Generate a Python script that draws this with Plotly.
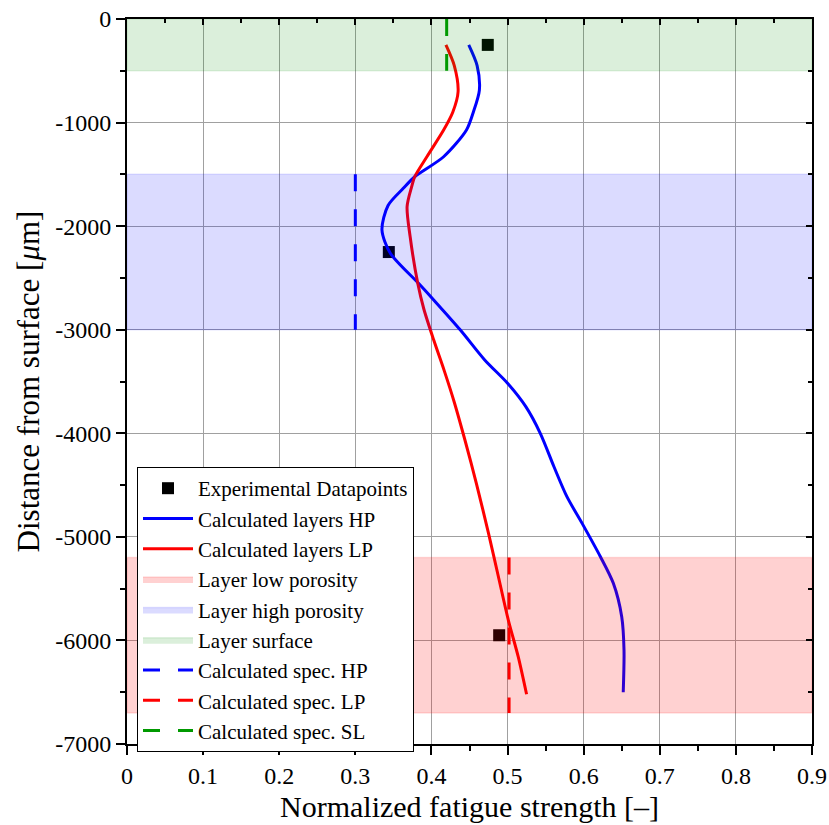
import plotly.graph_objects as go

# ---------------- data ----------------
exp_x = [0.474, 0.344, 0.489]
exp_y = [-250, -2250, -5950]

hp_y = [-250, -450, -686, -900, -1072, -1330, -1523, -1635, -1800, -2037, -2262,
        -2552, -2713, -3003, -3292, -3517, -3743, -4000, -4323, -4612, -4870,
        -5192, -5449, -5771, -6093, -6500]
hp_x = [0.449, 0.460, 0.463, 0.455, 0.446, 0.416, 0.378, 0.363, 0.343, 0.335, 0.346,
        0.383, 0.403, 0.438, 0.470, 0.500, 0.524, 0.543, 0.561, 0.578, 0.598,
        0.622, 0.639, 0.650, 0.653, 0.652]

lp_y = [-250, -450, -702, -900, -1072, -1330, -1523, -1619, -1812, -2100, -2552,
        -2800, -3100, -3400, -3700, -4065, -4483, -4966, -5385, -5803,
        -6157, -6520]
lp_x = [0.419, 0.430, 0.435, 0.428, 0.416, 0.394, 0.378, 0.374, 0.368, 0.372, 0.382,
        0.390, 0.403, 0.417, 0.430, 0.444, 0.459, 0.475, 0.488, 0.501,
        0.514, 0.525]

# layers: (top, bottom)
layer_low = [-5200, -6700]
layer_high = [-1500, -3000]
layer_surface = [0, -500]
x_range = [0, 0.9]
y_range = [-7000, 0]

spec_hp = 0.30
spec_lp = 0.502
spec_sl = 0.42

x_ticks = [0, 0.1, 0.2, 0.3, 0.4, 0.5, 0.6, 0.7, 0.8, 0.9]
x_ticklabels = ["0", "0.1", "0.2", "0.3", "0.4", "0.5", "0.6", "0.7", "0.8", "0.9"]
y_ticks = [0, -1000, -2000, -3000, -4000, -5000, -6000, -7000]
y_ticklabels = ["0", "-1000", "-2000", "-3000", "-4000", "-5000", "-6000", "-7000"]

FONT = "Liberation Serif, Times New Roman, DejaVu Serif, serif"
fig = go.Figure()

fig.add_trace(go.Scatter(x=exp_x, y=exp_y, mode="markers", name="Experimental Datapoints",
                         marker=dict(symbol="square", size=12, color="black"),
                         legendrank=1))
fig.add_trace(go.Scatter(x=hp_x, y=hp_y, mode="lines", name="Calculated layers HP",
                         line=dict(color="#0000ff", width=3, shape="spline", smoothing=0.8),
                         legendrank=2))
fig.add_trace(go.Scatter(x=lp_x, y=lp_y, mode="lines", name="Calculated layers LP",
                         line=dict(color="#ff0000", width=3, shape="spline", smoothing=0.8),
                         legendrank=3))


def band(layer, fill, edge, name, rank):
    x0, x1 = x_range
    top, bot = layer
    fig.add_trace(go.Scatter(x=[x0, x1, x1, x0, x0], y=[top, top, bot, bot, top],
                             mode="lines", fill="toself", fillcolor=fill,
                             line=dict(color=edge, width=1.5), name=name,
                             legendrank=rank, hoverinfo="skip"))


band(layer_low, "rgba(255,0,0,0.18)", "rgba(255,0,0,0.12)", "Layer low porosity", 4)
band(layer_high, "rgba(0,0,255,0.14)", "rgba(0,0,255,0.10)", "Layer high porosity", 5)
band(layer_surface, "rgba(0,140,0,0.14)", "rgba(0,140,0,0.10)", "Layer surface", 6)


def spec(xv, layer, color, name, rank):
    fig.add_trace(go.Scatter(x=[xv, xv], y=layer, mode="lines", name=name,
                             line=dict(color=color, width=3, dash="17px,18px"),
                             legendrank=rank))


spec(spec_hp, layer_high, "#0000ff", "Calculated spec. HP", 7)
spec(spec_lp, layer_low, "#ff0000", "Calculated spec. LP", 8)
spec(spec_sl, layer_surface, "#009900", "Calculated spec. SL", 9)

# invisible trace on mirrored axes (top / right) with inside ticks
fig.add_trace(go.Scatter(x=[None], y=[None], xaxis="x2", yaxis="y2", showlegend=False,
                         hoverinfo="skip"))

axis_common = dict(showline=True, linecolor="black", linewidth=2, zeroline=False,
                   ticks="outside", ticklen=9, tickwidth=2, tickcolor="black",
                   tickfont=dict(family=FONT, size=24, color="black"),
                   showgrid=True, gridcolor="#a0a0a0", gridwidth=1, automargin=False)

mirror_common = dict(showticklabels=False, showline=True, linecolor="black", linewidth=2,
                     ticks="inside", ticklen=6, tickwidth=2, tickcolor="black",
                     showgrid=False, zeroline=False, automargin=False)

fig.update_layout(
    width=829, height=825,
    margin=dict(l=127, r=17, t=19, b=81, autoexpand=False),
    paper_bgcolor="white", plot_bgcolor="white",
    font=dict(family=FONT, color="black"),
    xaxis=dict(range=x_range, tickvals=x_ticks, ticktext=x_ticklabels,
               title=dict(text="Normalized fatigue strength [–]", font=dict(family=FONT, size=30),
                          standoff=8),
               minor=dict(dtick=0.05, ticks="outside", ticklen=5, tickwidth=1.5,
                          tickcolor="black", showgrid=False),
               **axis_common),
    yaxis=dict(range=y_range, tickvals=y_ticks, ticktext=y_ticklabels,
               title=dict(text="Distance from surface [<i>μ</i>m]", font=dict(family=FONT, size=31),
                          standoff=6),
               minor=dict(dtick=500, tick0=0, ticks="outside", ticklen=5, tickwidth=1.5,
                          tickcolor="black", showgrid=False),
               **axis_common),
    xaxis2=dict(overlaying="x", side="top", range=x_range, tickvals=x_ticks,
                minor=dict(dtick=0.05, ticks="inside", ticklen=4, tickwidth=1.5,
                           tickcolor="black"),
                **mirror_common),
    yaxis2=dict(overlaying="y", side="right", range=y_range, tickvals=y_ticks,
                minor=dict(dtick=500, tick0=0, ticks="inside", ticklen=4, tickwidth=1.5,
                           tickcolor="black"),
                **mirror_common),
    legend=dict(x=0.0146, y=0.382, xanchor="left", yanchor="top",
                bgcolor="white", bordercolor="black", borderwidth=1,
                font=dict(family=FONT, size=21, color="black"),
                traceorder="normal", itemwidth=50),
    showlegend=True,
)

fig.write_html("out.html")
